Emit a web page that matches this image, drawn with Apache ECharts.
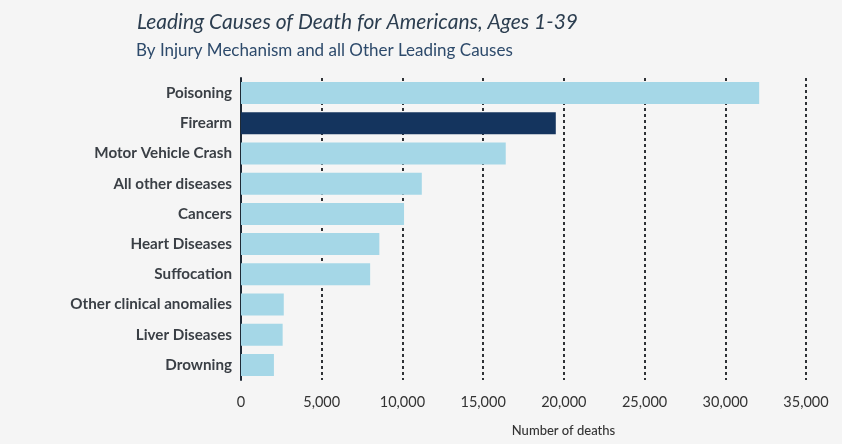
<!DOCTYPE html>
<html>
<head>
<meta charset="utf-8">
<script src="https://cdn.jsdelivr.net/npm/echarts@6/dist/echarts.min.js"></script>
<style>
html,body{margin:0;padding:0;background:#f5f5f5;}
#chart{width:842px;height:444px;}
</style>
</head>
<body>
<div id="chart"></div>
<script>
const categories = ["Poisoning","Firearm","Motor Vehicle Crash","All other diseases","Cancers","Heart Diseases","Suffocation","Other clinical anomalies","Liver Diseases","Drowning"];
const deaths = [32100, 19500, 16400, 11200, 10100, 8570, 8000, 2650, 2580, 2040];
const highlighted = "Firearm";
const xTicks = [0, 5000, 10000, 15000, 20000, 25000, 30000, 35000];

const chart = echarts.init(document.getElementById('chart'));
chart.setOption({
  backgroundColor: '#f5f5f5',
  animation: false,
  title: [
    {text: 'Leading Causes of Death for Americans, Ages 1-39', left: 132, top: 7,
     textStyle: {fontFamily: 'Lato', fontStyle: 'italic', fontWeight: 'normal', fontSize: 21, color: '#2c3e50'}},
    {text: 'By Injury Mechanism and all Other Leading Causes', left: 131, top: 37,
     textStyle: {fontFamily: 'Lato', fontWeight: 'normal', fontSize: 17, color: '#2d4a6b'}}
  ],
  grid: {left: 241, right: 36, top: 78, bottom: 64, containLabel: false},
  xAxis: {
    type: 'value', min: xTicks[0], max: xTicks[xTicks.length-1], interval: 5000,
    name: 'Number of deaths', nameLocation: 'middle', nameGap: 44,
    nameTextStyle: {fontFamily: 'Lato', fontSize: 13, color: '#333', fontWeight: 500, padding: [0, 0, 0, 80]},
    axisLine: {show: false}, axisTick: {show: false},
    axisLabel: {fontFamily: 'Lato', fontSize: 14.5, color: '#333', margin: 15,
      formatter: v => v.toLocaleString('en-US')},
    splitLine: {show: true, lineStyle: {type: [3, 3], width: 2, color: '#2f3236'}}
  },
  yAxis: {
    type: 'category', data: categories, inverse: true,
    axisLine: {show: true, lineStyle: {color: '#1f2a36', width: 2}},
    axisTick: {show: false},
    axisLabel: {fontFamily: 'Lato', fontSize: 15.2, fontWeight: 'bold', color: '#3a3f45', margin: 9}
  },
  series: [{
    type: 'bar', barWidth: 22, z: 3,
    data: deaths.map((v, i) => ({value: v, itemStyle: {color: categories[i] === highlighted ? '#14345e' : '#a5d7e7'}}))
  }]
});
</script>
</body>
</html>
